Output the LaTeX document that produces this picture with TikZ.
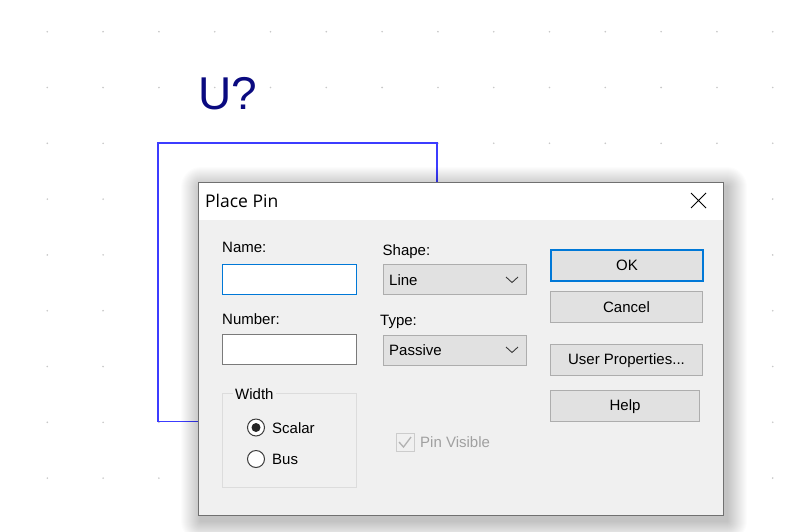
\documentclass[tikz,border=0pt]{standalone}
\usepackage{fontspec}
\setmainfont{Liberation Sans}
\newfontfamily\titlefont{Open Sans}
\definecolor{dotc}{RGB}{200,200,200}
\definecolor{schblue}{RGB}{60,60,255}
\definecolor{refnavy}{RGB}{10,10,128}
\definecolor{dlgbg}{RGB}{240,240,240}
\definecolor{dlgborder}{RGB}{112,112,112}
\definecolor{btnfill}{RGB}{225,225,225}
\definecolor{btnborder}{RGB}{173,173,173}
\definecolor{focusblue}{RGB}{0,120,215}
\definecolor{editborder}{RGB}{122,122,122}
\definecolor{grpborder}{RGB}{220,220,220}
\definecolor{disabled}{RGB}{160,160,160}
\definecolor{chev}{RGB}{60,60,60}
\tikzset{
  lbl/.style={inner sep=0pt, anchor=base west, font=\fontsize{15}{18}\selectfont, text=black},
  btnbox/.style={draw=btnborder, fill=btnfill, line width=1pt, inner sep=0pt,
    minimum width=152pt, minimum height=31pt, anchor=north west,
    font=\fontsize{15}{18}\selectfont, text height=10.7pt, text depth=0pt},
  editbox/.style={draw=editborder, fill=white, line width=1pt, inner sep=0pt,
    minimum width=134pt, minimum height=30pt, anchor=north west},
  combobox/.style={draw=btnborder, fill=btnfill, line width=1pt, inner sep=0pt,
    minimum width=143pt, minimum height=30pt, anchor=north west},
  chevron/.style={draw=chev, line width=0.9pt},
  radioouter/.style={draw=chev, fill=white, line width=1pt},
}
\begin{document}
\begin{tikzpicture}[x=1pt,y=-1pt]
\useasboundingbox (0,0) rectangle (797,531);
\fill[white] (0,0) rectangle (797,531);
% grid dots
\foreach \i in {0,...,13}{
  \foreach \j in {0,...,8}{
    \fill[dotc] ({47.3+55.8*\i},{31.7+55.8*\j}) circle[radius=0.9pt];
  }
}
% schematic part
\node[inner sep=0pt, anchor=base west, font=\fontsize{46}{50}\selectfont, text=refnavy] (refdes) at (198.5,109) {U?};
\draw[schblue, line width=1.8pt, fill=white] (158,143) rectangle (437,421.5);
% dialog shadow
\foreach \i in {1,...,20}{
  \fill[black, opacity=0.011, rounded corners=\i pt] ({198-\i+3},{182-\i+5}) rectangle ({724+\i+3},{516+\i+5});
}
% dialog
\fill[dlgbg] (198,182) rectangle (724,516);
\fill[white] (198,182) rectangle (724,220);
\draw[dlgborder, line width=1pt] (198.5,182) rectangle (723.5,515.5);
\node[inner sep=0pt, anchor=base west, font=\titlefont\fontsize{17.5}{20}\selectfont] (title) at (205,207) {Place Pin};
\draw[black, line width=0.9pt] (691,193) -- (706,208) (706,193) -- (691,208);
% labels
\node[lbl] (namelbl) at (222,252.5) {Name:};
\node[lbl] (shapelbl) at (382.5,255) {Shape:};
\node[lbl] (numlbl) at (222,324) {Number:};
\node[lbl] (typelbl) at (380,325) {Type:};
% edit boxes
\node[editbox, draw=focusblue] (namebox) at (222,264) {};
\node[editbox] (numbox) at (222,333.5) {};
% combo boxes
\node[combobox] (shapebox) at (382.5,264) {};
\node[lbl] (shapeval) at (389,285.5) {Line};
\draw[chevron] (506,277) -- (512,282.5) -- (518,277);
\node[combobox] (typebox) at (382.5,334.5) {};
\node[lbl] (typeval) at (389,355.5) {Passive};
\draw[chevron] (506,347) -- (512,352.5) -- (518,347);
% buttons
\node[btnbox, draw=focusblue, line width=2pt] (okbtn) at (550,249) {OK};
\node[btnbox] (cancelbtn) at (550,291) {Cancel};
\node[btnbox] (userbtn) at (550,343.5) {User Properties...};
\node[btnbox, minimum width=149pt] (helpbtn) at (550,389.5) {Help};
% width group
\draw[grpborder, line width=1pt] (222,393.5) rectangle (356,487);
\node[lbl, fill=dlgbg, inner xsep=2pt] (widthlbl) at (233,399) {Width};
\filldraw[radioouter] (256,427.5) circle[radius=8.5pt];
\fill[black!85] (256,427.5) circle[radius=4.5pt];
\node[lbl] (scalarlbl) at (272,433) {Scalar};
\filldraw[radioouter] (256,459) circle[radius=8.5pt];
\node[lbl] (buslbl) at (272,464.5) {Bus};
% pin visible checkbox
\draw[draw=black!20, fill=dlgbg, line width=1pt] (396,433.5) rectangle (414,451);
\draw[black!30, line width=1.3pt] (399,442) -- (403.5,447) -- (411,437);
\node[lbl, text=disabled] (pinvis) at (420,447.5) {Pin Visible};
\end{tikzpicture}
\end{document}
